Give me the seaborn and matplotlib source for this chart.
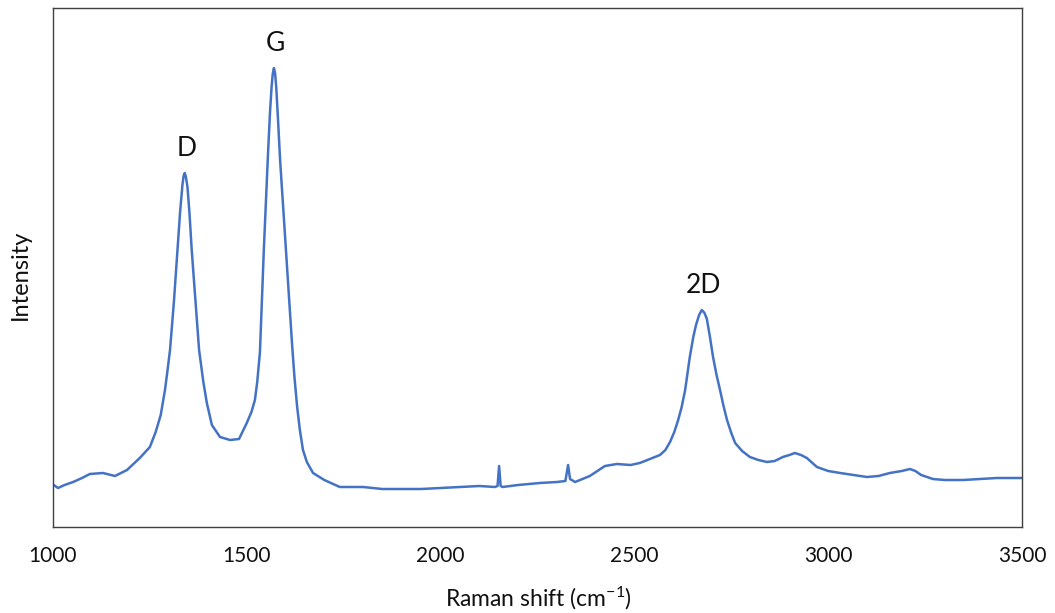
import matplotlib
matplotlib.use("Agg")
import matplotlib.pyplot as plt
import seaborn as sns
import pandas as pd

# Raman spectrum (wavenumber in cm^-1, intensity in arbitrary units)
raman_shift = [
    1002, 1013, 1030, 1052, 1075, 1095, 1129, 1160, 1191, 1224, 1250, 1265,
    1278, 1289, 1295, 1302, 1312, 1320, 1328, 1334, 1337, 1340, 1343, 1347,
    1352, 1358, 1368, 1377, 1388, 1397, 1410, 1431, 1457, 1480, 1500, 1512,
    1521, 1527, 1534, 1538, 1544, 1550, 1555, 1560, 1564, 1567, 1570, 1573,
    1576, 1580, 1586, 1593, 1601, 1609, 1617, 1623, 1630, 1637, 1645, 1655,
    1671, 1700, 1740, 1800, 1850, 1900, 1950, 1998, 2050, 2100, 2140, 2147,
    2151, 2155, 2160, 2200, 2256, 2300, 2322, 2329, 2334, 2347, 2385, 2424,
    2455, 2490, 2514, 2540, 2566, 2580, 2592, 2603, 2613, 2622, 2631, 2643,
    2652, 2659, 2667, 2674, 2681, 2687, 2695, 2703, 2712, 2721, 2730, 2739,
    2750, 2760, 2778, 2798, 2820, 2842, 2862, 2883, 2900, 2914, 2930, 2945,
    2971, 3000, 3031, 3065, 3100, 3130, 3159, 3190, 3211, 3225, 3240, 3270,
    3300, 3348, 3390, 3435, 3470, 3500,
]
intensity = [
    42, 39, 42, 45, 49, 53, 54, 51, 57, 69, 80, 95,
    112, 137, 155, 177, 225, 270, 315, 342, 351, 354, 350, 340,
    315, 277, 225, 177, 145, 124, 102, 90, 87, 88, 104, 115,
    127, 145, 175, 215, 277, 330, 375, 415, 440, 453, 459, 454,
    440, 412, 367, 325, 277, 228, 182, 150, 120, 97, 77, 65,
    54, 47, 40, 40, 38, 38, 38, 39, 40, 41, 40, 41,
    61, 41, 40, 42, 44, 45, 46, 62, 48, 45, 51, 61,
    63, 62, 64, 68, 72, 77, 85, 95, 107, 120, 137, 170,
    190, 202, 212, 217, 214, 208, 190, 170, 152, 137, 121, 107,
    94, 84, 76, 70, 67, 65, 66, 70, 72, 74, 72, 69,
    60, 56, 54, 52, 50, 51, 54, 56, 58, 56, 52, 48,
    47, 47, 48, 49, 49, 49,
]

# Band labels and the wavenumber of each band maximum
band_names = ["D", "G", "2D"]
band_positions = [1340, 1570, 2674]

x_ticks = [1000, 1500, 2000, 2500, 3000, 3500]

df = pd.DataFrame({"shift": raman_shift, "intensity": intensity})

sns.set_theme(style="white")
plt.rcParams["font.family"] = ["Lato", "DejaVu Sans"]
plt.rcParams["mathtext.fontset"] = "custom"
plt.rcParams["mathtext.rm"] = "Lato"
plt.rcParams["mathtext.it"] = "Lato"

fig = plt.figure(figsize=(10.55, 6.13), dpi=100)
ax = fig.add_axes([0.0502, 0.1403, 0.9185, 0.8466])

sns.lineplot(data=df, x="shift", y="intensity", ax=ax, color="#4472C4",
             linewidth=1.8, sort=False)

ax.set_xlim(1000, 3500)
ax.set_ylim(0, 519)
ax.set_xticks(x_ticks)
ax.set_xticklabels([str(t) for t in x_ticks], fontsize=15, color="#111111")
ax.set_yticks([])
ax.tick_params(axis="x", length=0, pad=14)

ax.set_xlabel(r"Raman shift (cm$^{\mathregular{-1}}$)", fontsize=16.5,
              color="#111111")
ax.xaxis.label.set_va("center")
ax.xaxis.set_label_coords(0.5015, -0.137)

ax.set_ylabel("Intensity", fontsize=17, color="#111111")
ax.yaxis.label.set_va("center")
ax.yaxis.set_label_coords(-0.034, 0.486)

for spine in ax.spines.values():
    spine.set_visible(True)
    spine.set_color("#404040")
    spine.set_linewidth(1.0)

# Peak labels placed just above each band maximum
lookup = dict(zip(raman_shift, intensity))
for name, pos in zip(band_names, band_positions):
    ax.annotate(name, xy=(pos, lookup[pos]), xytext=(1, 9),
                textcoords="offset points", ha="center", va="bottom",
                fontsize=19, color="#111111")

fig.savefig("out.png", dpi=100)
